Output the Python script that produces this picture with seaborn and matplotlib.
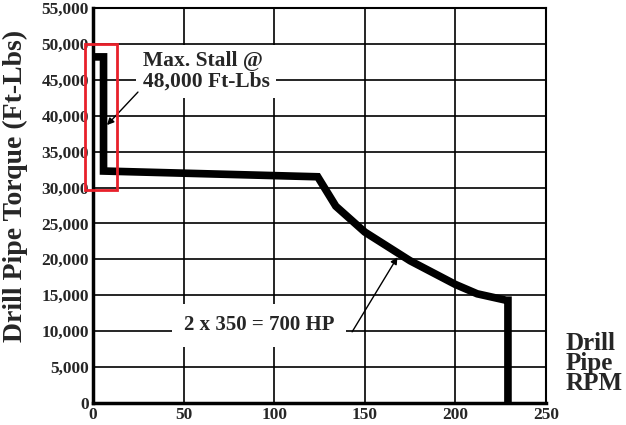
import pandas as pd
import numpy as np
import matplotlib.pyplot as plt
import seaborn as sns
from matplotlib.patches import Rectangle

"""Curve read off the chart"""
rpm = [0.8, 5.8, 5.8, 124, 134, 150, 175, 200, 212, 228, 229, 229]
torque = [48200, 48200, 32300, 31500, 27400, 23800, 19800, 16500, 15200, 14300, 14300, 0]
x_ticks = [0, 50, 100, 150, 200, 250]
y_ticks = [0, 5000, 10000, 15000, 20000, 25000, 30000, 35000, 40000, 45000, 50000, 55000]

df = pd.DataFrame({'rpm': rpm, 'torque': torque})

sns.set_style('white')
plt.rcParams['font.family'] = ['Liberation Serif', 'DejaVu Serif']
plt.rcParams['font.weight'] = 'bold'

fig = plt.figure(figsize=(6.26, 4.25), dpi=100)
ax = fig.add_axes([0.1486, 0.052, 0.7236, 0.929])

sns.lineplot(data=df, x='rpm', y='torque', sort=False, estimator=None,
             color='black', linewidth=5.5, ax=ax, solid_joinstyle='miter', solid_capstyle='butt', zorder=3)

ax.set_xlim(0, 250)
ax.set_ylim(0, 55000)
ax.set_xticks(x_ticks)
ax.set_yticks(y_ticks)
ax.set_xticklabels([str(t) for t in x_ticks], fontsize=12.5, fontweight='bold')
ax.set_yticklabels([f'{t:,}' for t in y_ticks], fontsize=12.5, fontweight='bold')
ax.tick_params(length=0, pad=3)
ax.grid(True, color='black', linewidth=1.2)
for s in ax.spines.values():
    s.set_color('black')
    s.set_linewidth(1.5)
ax.spines['left'].set_linewidth(2.5)
ax.spines['bottom'].set_linewidth(2.5)

ax.set_xlabel('')
ax.set_ylabel('Drill Pipe Torque (Ft-Lbs)', fontsize=20, fontweight='bold', va='center')
ax.yaxis.set_label_coords(-0.172, 0.55)

"""Annotations"""
ax.text(27.5, 46200, 'Max. Stall @\n48,000 Ft-Lbs', fontsize=15.5, fontweight='bold',
        ha='left', va='center', linespacing=1.0, zorder=4,
        bbox=dict(boxstyle='square,pad=0.3', fc='white', ec='none'))
ax.annotate('', xy=(7.7, 38700), xytext=(24.8, 43300),
            arrowprops=dict(arrowstyle='-|>', color='black', lw=1, shrinkA=0, shrinkB=0), zorder=5)

ax.text(50, 10800, '2 x 350 = 700 HP', fontsize=15, fontweight='bold',
        ha='left', va='center', zorder=4,
        bbox=dict(boxstyle='square,pad=0.55', fc='white', ec='none'))
ax.annotate('', xy=(168, 20300), xytext=(143, 9900),
            arrowprops=dict(arrowstyle='-|>', color='black', lw=1, shrinkA=0, shrinkB=0), zorder=5)

ax.add_patch(Rectangle((-4.4, 29600), 17.6, 20400, fill=False, edgecolor='#e8202a',
                       linewidth=2, clip_on=False, zorder=6))

fig.text(0.904, 0.145, 'Drill\nPipe\nRPM', fontsize=18, fontweight='bold',
         ha='left', va='center', linespacing=0.85)

plt.savefig('out.png', dpi=100)
